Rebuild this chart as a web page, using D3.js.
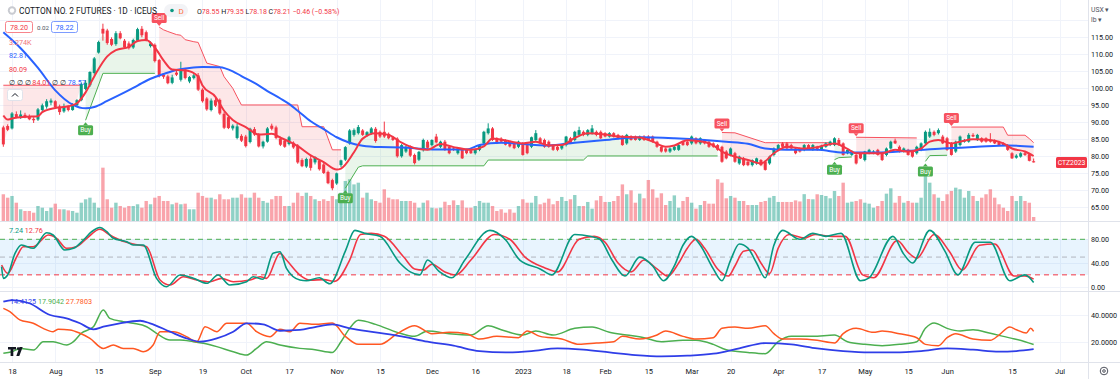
<!DOCTYPE html>
<html><head><meta charset="utf-8">
<script src="https://cdn.jsdelivr.net/npm/d3@7"></script>
<style>
html,body{margin:0;padding:0;background:#fff;}
svg{display:block;font-family:Roboto,"Noto Sans",sans-serif;}
</style></head><body>
<svg id="c" width="1120" height="379"></svg>
<script>
// ---------- DATA ----------
const firstBar = -2;
const ohlc = [
[88.5,89,82.8,83.5],[88.9,89.4,87.4,87.8],[88.2,93,87.9,92.6],[92.4,93.2,91.2,91.5],[91.5,93.5,91,92.3],
[92.2,92.8,91.2,91.4],[91.6,92.3,90.6,90.9],[91,91.5,89.8,90.6],[90.8,94.2,90.4,93.8],[93.6,95.5,93,95],
[94.6,96.8,94,96.2],[95.8,97,95,96.4],[96.2,96.5,94,94.5],[94.6,95.2,92.2,93],[93.2,95.5,92.8,94.6],
[94.5,95,93.2,93.6],[93.6,95.6,93.4,95.3],[95,96.8,94.6,96.5],[96.5,101.6,96.2,101.3],[99.8,102.4,99.4,101.6],
[100.9,105,100.4,104.8],[104.5,109.2,104,108.8],[110.5,114,110.2,113.6],[117.5,119,114,116.1],[117,117.5,112.8,113.3],
[114.5,115,112.4,112.8],[113,116.8,112.5,116.2],[116.2,116.8,114.4,114.7],[114,114.5,111.6,112],[113.2,113.8,111.4,111.8],
[112,114.6,111.6,114.2],[114,117.8,113.6,117.4],[117.5,118.3,115,115.6],[116.5,117,113.8,114.2],[112.4,113.8,112,113.2],
[112.8,113.2,107.6,108],[108.3,108.6,103.2,103.6],[104,104.4,102.8,103.4],[103.5,104,101.2,101.5],[101.6,104,101.2,103.2],
[104.6,105.2,103.6,104],[102.5,107.8,102,105.5],[105.5,106,102.6,103],[102,103.6,101.5,103.3],[103,104.2,102.6,103.8],
[103.8,104.5,99.2,99.6],[99.6,100,95.8,96.2],[97,97.4,93.4,93.8],[93.6,97,93.2,96.4],[96.5,97.2,94.5,94.9],
[96.6,97,92.2,92.6],[92.5,93,88,88.4],[91.5,92,88,88.3],[88.2,89.4,87.6,89],[85.4,89.5,85,88.8],
[86,86.5,84.2,84.6],[85.8,86.3,82.6,83],[84.2,88.4,83.8,88.1],[88,88.6,86,86.4],[86.3,86.8,82.6,82.9],
[82.9,84.6,82.3,84.3],[84.3,88.6,84,88.2],[89,89.6,87.6,88.1],[88.5,89,85,85.4],[85.2,85.8,83,83.4],
[84.6,85,82.5,82.8],[83.6,86,83.2,85.6],[84,84.4,82.2,82.6],[83.2,83.6,77.8,78.2],[78.9,79.4,76.8,77.1],
[77,79.6,76.6,79.2],[79.3,80.4,75.8,76.6],[78.2,80,77.6,79.8],[78.8,79.2,75.8,76.2],[77.6,78,74.8,75.1],
[75.4,75.8,71.8,72.1],[73,73.4,70,70.6],[72,75.2,71.6,75],[77.4,79,76.8,78.8],[79,83,78.6,82.7],
[83.8,88,83.4,87.6],[86.3,88.2,85.8,87.7],[86.8,89.2,86.4,88.6],[87.6,88,86,86.3],[86.2,87.4,85.8,87.1],
[86.8,88.6,86.4,88.2],[88.1,88.6,84,84.5],[87.2,87.6,85.4,85.8],[87.2,90.2,85.4,85.8],[86.6,87,85,85.3],
[85.6,86,84.5,84.8],[85.2,85.6,79.6,80],[80,83.6,79.6,83.3],[81.4,83.2,81,82.8],[82.8,83.2,79.8,80.2],
[80.4,80.8,77.6,78],[79,81.6,78.6,81.3],[81.8,85.2,81.4,84.8],[84.3,84.8,82.2,82.5],[83.3,85,82.9,84.8],
[85.8,86.6,83.8,84.1],[82.8,84.6,82.4,84.3],[84.3,84.8,81.6,81.9],[82.8,83.2,80.6,80.9],[82.3,82.8,81.6,81.9],
[80.9,82.6,80.5,82.3],[81.9,82.3,79.2,79.4],[81.9,82.2,80.6,80.9],[81.8,82.1,80.7,80.9],[80.9,82.2,80.5,81.9],
[81.9,83.6,81.5,83.3],[83.8,87.5,83.4,87.2],[86.8,89.7,86.4,88.2],[88.2,88.6,84.5,84.8],[85.3,85.6,83.6,83.8],
[85.2,85.6,84.1,84.3],[84.7,85,83.2,83.4],[84.3,84.6,82.6,82.9],[83.8,84.2,82.1,82.4],[82.8,84.6,82.4,84.3],
[83.8,84.2,80.2,80.4],[83.3,83.6,80.6,80.9],[82.8,85.8,82.4,85.6],[84.8,87.7,84.4,86.8],[85.3,85.7,83.6,83.8],
[84.8,85.2,82.5,82.8],[84.3,84.7,82.5,82.8],[83.3,83.6,81.6,81.9],[82.8,83.1,81.5,81.9],[82.3,83.5,81.9,83.3],
[83.3,86,82.9,85.8],[85.3,85.7,83.6,83.8],[84.8,87.5,84.4,87.2],[86.3,88.7,85.9,87.7],[87.2,87.6,85.9,86.3],
[86.3,88,85.9,87.7],[86.8,89.2,86.4,88.2],[87.2,87.6,85.9,86.3],[87.2,87.6,85.1,85.3],[86.8,87.1,85.6,85.8],
[85.8,87.1,85.5,86.8],[86.8,87.1,85.5,85.8],[86.3,86.6,85,85.3],[85.8,86.2,83.1,83.3],[83.8,86.6,83.4,86.3],
[85.8,86.2,84.6,84.8],[85.8,86.1,84.6,84.8],[84.8,86.1,84.5,85.8],[85.8,86.2,84.5,84.8],[85.8,86.2,84.5,84.8],
[85.8,86.1,84,84.3],[84.3,84.6,82.5,82.8],[82.8,83.2,81.1,81.4],[82.3,82.6,81.1,81.4],[81.4,82.6,81,82.3],
[81.9,83.1,81.6,82.8],[81.9,83.6,81.6,83.3],[84.3,84.6,83.1,83.3],[84.3,84.6,83,83.3],[83.8,86.1,83.4,85.8],
[85.3,85.6,83.5,83.8],[83.8,85.6,83.4,85.3],[84.8,85.1,83.5,83.8],[84.3,84.6,82.5,82.8],[83.8,84.1,82.5,82.8],
[83.3,83.6,81.6,81.9],[82.8,83.1,78.1,78.4],[81.4,81.8,79.1,79.4],[80.4,82.6,80,82.3],[80.9,81.3,78.1,78.4],
[77.9,80.2,77.5,79.9],[79.4,79.8,77.1,77.4],[78.4,78.8,77.1,77.4],[77.4,79.1,77,78.9],[77.9,79.6,77.5,79.4],
[78.9,79.2,77.1,77.4],[78.4,78.8,75.8,76],[77.9,80.2,77.5,79.9],[80.4,82.6,80,82.3],[81.9,83.6,81.5,83.3],
[83.8,84.2,82.6,82.8],[83.8,84.2,82.1,82.3],[83.3,83.7,82.1,82.3],[82.3,82.7,80.6,80.9],[82.3,82.6,81.1,81.4],
[81.9,83.6,81.5,83.3],[83.3,83.6,82.1,82.3],[81.9,83.6,81.6,83.3],[82.8,83.1,81.6,81.9],[81.9,83.4,81.6,83.1],
[82.8,84.1,82.5,83.8],[83.3,84.6,83,84.3],[83.3,85.6,83,85.3],[84.8,85.4,83.1,83.3],[83.8,84.1,80.2,80.4],
[80.9,82.2,80.6,81.9],[80.4,81.8,80.1,81.4],[80.4,80.8,77.6,77.9],[80.9,81.2,79.2,79.4],[78.9,81.6,78.5,81.4],
[80.9,82.2,80.6,81.9],[80.9,81.8,80.6,81.4],[81.9,82.2,80.2,80.4],[80.9,81.2,78.6,78.9],[80.4,82.6,80,82.3],
[82.3,84.6,82,84.3],[84.6,85.2,83.6,83.8],[82.8,83.2,81.1,81.4],[81.4,82.6,81.1,82.3],[81.9,82.2,80.2,80.4],
[81.4,81.7,79.6,79.9],[80.9,83.1,80.5,82.8],[81.9,84.1,81.5,83.8],[83.8,87.6,83.4,87.2],[85.8,88.2,85.4,87.2],
[87.2,87.6,85.9,86.3],[86.8,88.2,86.4,87.7],[85.8,86.3,83.6,83.8],[85.3,85.7,81.6,81.9],[83.8,84.2,80.2,80.4],
[81.4,84.6,81,84.3],[83.3,86.1,82.9,85.8],[84.3,85.1,84,84.8],[84.3,86.8,84,86.3],[86.3,86.8,85.6,85.8],
[84.8,86.6,84.5,86.3],[85.3,85.6,84,84.3],[85.3,85.6,84,84.3],[84.8,86.8,84,84.3],[84.6,85,83.6,83.8],
[84.3,84.6,83.1,83.3],[83.8,84.1,83,83.3],[83.3,83.6,81.6,81.9],[80.9,81.2,79.2,79.4],[79.6,80.6,79.3,80.2],
[79.9,81.2,79.6,80.9],[80.9,81.4,80.1,80.4],[80.6,81,78.5,78.67],[78.55,79.35,78.18,78.21]
];
const volumeK = [
21.9,19.1,20.5,15,9.6,8.2,8.2,6.8,12.3,10.9,8.2,10.9,14.2,9.6,9.6,8.7,8.2,6.8,15,17.8,19.1,15,10.9,43.7,17.8,10.9,15,12.3,10.9,12.3,12.3,13.7,10.9,16.4,13.7,19.1,20.5,16.4,16.4,13.7,15,13.7,14.2,9.6,9.6,23.2,20.5,19.1,19.1,17.8,21.9,17.8,17.8,19.1,19.1,21.9,19.1,19.1,23.2,19.1,16.4,15,17.8,20.5,
20.5,12.3,12.3,15,23.2,20.5,23.2,20.5,17.8,16.4,17.8,16.4,20.5,17.8,23.2,32.8,34.2,30,31.4,19.1,23.2,17.8,16.4,15,26,19.1,17.8,17.8,16.4,16.4,16.4,
15,10.9,15,16.9,10.9,10.4,10.9,15.8,13.1,16.9,13.1,16.9,10.9,10.9,12.3,16.4,15,15,12.3,8.2,9.6,6.8,9.6,6.8,12.3,17.8,15,15,20.5,13.7,15,18.3,13.7,16.4,19.7,16.4,17.8,21.3,12.3,12.3,15.6,10.1,16.9,20.5,15.6,15.6,16.4,20.5,30,21.9,25.1,15,22.4,18.6,33.6,26,19.1,22.7,13.1,16.4,21,10.9,16.4,19.7,15,10.1,13.1,16.4,14.2,14.2,34.2,31.4,18.6,20.5,19.1,16.4,16.4,13.1,13.1,13.1,15.6,16.4,19.1,20.5,15.6,15.6,15.6,15.6,16.9,
16,22,18,
17.8,21.9,21.3,20.5,18.6,24.6,20.5,31.4,15,15.8,16.4,17.8,15,14.2,10.9,12.3,16.4,22.4,26.8,15,20.5,15,16.4,15,15,19.1,36.9,31.4,21.9,19.1,16.4,21.9,24.6,27.3,26,19.1,24.6,20.5,16.4,19.1,21.9,26,19.1,13.7,10.9,8.2,20.5,16.4,20.5,16.4,15,3.274
];
const fastMA = [[-2,92.0],[-1,90.8],[0,91.1],[3,91.6],[6,91.8],[7,93.0],[10,94.2],[13,94.7],[15,95.6],[17,98.8],[19,103.5],[22,109.4],[24,111.2],[27,112.2],[29,113.9],[31,114.2],[33,112.0],[35,108.2],[37,105.5],[40,105.3],[43,103.5],[44,100.8],[47,97.5],[49,93.4],[51,90.7],[54,88.6],[57,86.4],[60,86.6],[62,85.5],[66,83.0],[69,80.3],[72,78.3],[75,76.1],[76,76.4],[79,81.2],[81,85.2],[84,86.8],[87,86.3],[90,84.0],[93,82.4],[96,81.9],[99,83.6],[102,82.7],[106,81.9],[109,82.9],[111,85.2],[113,84.9],[118,83.8],[121,84.3],[124,83.2],[127,83.3],[130,85.4],[133,86.8],[137,86.4],[140,85.8],[145,85.5],[148,84.3],[151,82.8],[153,83.2],[156,84.7],[160,84.2],[162,83.2],[164,81.4],[167,79.9],[170,78.9],[173,77.9],[176,80.9],[179,82.8],[183,82.3],[186,82.7],[188,83.3],[190,83.8],[193,82.2],[195,80.9],[198,80.9],[201,80.9],[204,81.9],[207,81.4],[210,82.3],[212,84.3],[214,84.8],[217,83.8],[219,84.3],[222,85.0],[226,84.8],[229,83.8],[231,82.3],[234,81.4],[236,80.09]];
const slowMA = [[-2,116.5],[2,111.8],[6,106],[10,99.4],[14,95.2],[17,94.1],[19,94.5],[22,96.3],[26,98.8],[29,100.8],[32,102.8],[35,104.2],[38,105.4],[41,106],[44,106.3],[48,106.2],[51,105],[53,103.6],[56,101.6],[59,99.2],[62,97],[64,95.4],[66,93.4],[69,90.3],[72,88],[75,85.6],[78,84],[81,83.1],[85,82.7],[90,82.6],[98,82],[105,82],[108,83.3],[113,84],[120,83.4],[124,83.2],[130,84],[137,84.8],[145,85.6],[153,85.3],[160,84.8],[165,84.3],[170,83.7],[174,82.3],[179,81.9],[186,81.9],[192,81.1],[200,81.1],[207,81.6],[215,82.3],[223,82.8],[230,83.2],[236,82.81]];
// trailing stop segments [bar, level]
const upperBand = [
 [[-2,100.9],[16,100.9]],
 [[34,118],[35,117.2],[36,116.7],[38,115.8],[39,115.6],[40,114.3],[42,113.7],[43,113.5],[45,107.4],[48,106.4],[49,103.4],[51,100],[52,97.5],[53,95.1],[66,95.1],[67,88.7],[72,88.7],[74,81.9],[76,81.9]],
 [[164,87],[167,86.9],[173,84.4],[174,84],[189,84]],
 [[195,85.6],[209,85.4]],
 [[217,88.6],[229,88.6],[230,86.2],[234,86.2],[235,85.2],[236,84.01]]
];
const lowerBand = [
 [[17,90.6],[21,104.4],[33,104.4]],
 [[77,70.6],[80,76.8],[81,77.2],[109,77.2],[110,78.9],[132,78.9],[133,80.1],[163,80.1]],
 [[190,79.0],[191,79.6],[194,79.8]],
 [[211,78.5],[212,80.2],[216,80.3]]
];
const stochK = [[-2.4,33.8],[-2,14.1],[-1,19.7],[0.7,56.3],[2.2,70.4],[4.9,64.8],[8,91.1],[9.5,87.3],[12.2,61.9],[14.2,64.8],[16.5,78.8],[18.4,92.8],[20.3,100],[21.9,92.8],[23.4,81.7],[26.5,75.9],[28,70.4],[30.3,70.4],[33.4,14.1],[35.7,0],[38.8,19.7],[41.9,14.1],[45,5.7],[47.6,19.7],[50.3,2.8],[54.2,8.4],[55.7,16.9],[58,12.5],[60.3,56.3],[61.9,59.1],[63.4,31],[66.5,11.3],[68,10],[71,15],[73.4,5],[77,60],[79.2,95],[81.5,90],[85,85],[89.6,40],[92,25],[94.2,20],[96,45],[98.8,25],[101.6,15],[104.6,45],[110.4,95],[113.9,80],[117.3,45],[122,30],[124.7,20],[130,88],[133.5,85],[135.8,80],[138.6,45],[141.6,18],[145,50],[148,35],[150.5,10],[153,35],[155,70],[157,85],[159,70],[162,30],[164,10],[166,45],[168,72],[170,65],[172,40],[174,15],[176,70],[178,95],[182,80],[185,90],[188,85],[191.5,90],[196,10],[198,15],[203.5,85],[206,55],[208,40],[212,95],[215.5,60],[218.5,20],[222.5,75],[226,75],[230.5,10],[234,20],[236,7.24]];
const stochD = [[-2.4,36.6],[-1,22.6],[1.1,50.6],[2.6,67.5],[4.9,67.5],[8.4,87.3],[10.3,81.7],[12.6,64.8],[14.9,67.5],[17.3,81.7],[20.3,96.9],[22.6,87.3],[24.9,78.8],[28,72],[31.1,67.5],[34.2,11.3],[36.5,2.8],[39.6,16.9],[42.7,11.3],[45.7,8.4],[48.4,14.1],[51.1,8.4],[55,11.3],[57.3,16.9],[58.8,14.1],[61.9,56.3],[63.4,45],[66.5,19.7],[69,11],[72,12],[74.5,9],[78,45],[80.5,88],[83,90],[86,85],[90.5,50],[93,30],[95,28],[97,38],[100,25],[102.5,20],[106,45],[111.5,88],[115,80],[118.5,50],[123,32],[126,25],[131,80],[134.5,85],[137,75],[140,40],[143,25],[146,45],[149,30],[151.5,18],[154,40],[156,65],[158,80],[160,65],[163,30],[165.5,18],[167,35],[169,60],[171,62],[173,40],[175,22],[177,65],[179.5,88],[183,82],[185.5,88],[189.5,85],[192.5,85],[196.5,20],[199,15],[204.5,78],[207,58],[209,48],[213,88],[216.5,60],[219.5,28],[223.5,70],[227,72],[231.5,18],[234,18],[236,12.76]];
const dmiBlue = [[-2,50],[0,51.2],[4,48.8],[8.8,40],[12.6,37.5],[15.7,33.8],[18.8,29.3],[21.1,31.2],[24.9,33.8],[29.6,35.7],[31.9,33.8],[36.5,27.5],[40.3,22.5],[43.4,20],[47.3,22.5],[51.1,27.5],[54.2,33.8],[58,33],[61.9,28.2],[66.5,28.8],[70,31],[74,33],[78,30],[84,27],[90,24],[96,20],[102,17],[108,13],[114,12],[120,13],[126,15],[132,14],[138,12],[144,10],[150,9],[156,9.5],[162,11],[168,15],[174,19],[180,18],[186,15],[192,13],[198,12],[204,12],[210,13],[216,15],[222,14],[228,12.5],[232,13],[236,14.41]];
const dmiGreen = [[-2,11.3],[0,12.5],[2,15],[5,13.8],[7.2,20],[9.5,20],[12.6,17.5],[14.2,20],[16,26.3],[18.8,31.2],[21.1,43.7],[22.6,37.5],[25.7,35],[28,33.8],[31.1,31.2],[33.4,26.3],[36.5,21.3],[38.8,21.3],[41.9,20],[44.2,18.8],[47.3,16.3],[51.1,12.5],[54.2,10],[56.5,15],[58.8,20],[61.9,17.5],[66.5,15],[70,14],[74,12],[76,20],[78,30],[80,36],[84,33],[89,27],[93,24],[96,28],[101,26],[106,25],[110,32],[113,29],[118,25],[121,28],[125,25],[130,30],[134,31],[138,27],[142,25],[146,23],[150,20],[155,21],[158,21],[162,18],[165,14],[170,12],[174,11],[177,20],[180,24],[185,24],[190,25],[193,20],[197,18],[201,17],[205,18],[209,20],[211,30],[213,34],[216,30],[219,28],[222,29],[226,26.3],[229,24],[231,22.5],[234,20],[236,17.9]];
const dmiOrange = [[-2,45],[-0.5,42.5],[1.8,36.3],[4.9,33.8],[7.2,30],[9.5,27.5],[10.7,29.3],[13.4,28.8],[15.7,26.3],[18,22.5],[21.1,15],[23.4,17.5],[25.7,15],[28,15],[30.3,12.5],[32.6,17.5],[34.2,27.5],[37.3,27.5],[40.3,23.8],[42.7,20],[44.6,31.2],[47.3,27.5],[49.6,33.8],[54.2,33.8],[56.5,27.5],[59.6,23.8],[61.9,29.3],[64.2,27.5],[66.5,33.8],[70,33],[74,34],[77,24],[80,18],[85,18],[89,26],[93,32],[97,26],[101,27],[105,26],[108,22],[112,24],[117,23],[119,28],[122,24],[127,22],[131,18],[135,19],[139,20],[141,24],[145,22],[149,25],[151,28],[155,24],[158,22],[162,23],[164,30],[167,31],[170,30],[174,32],[176,26],[178,22],[182,22],[186,21],[190,19],[192,26],[195,30],[199,27],[201,28],[205,26],[209,23],[211,18],[214,17],[216,23],[218,26],[222,22],[226,21],[228,25],[230.5,31],[232,29],[234.3,26.5],[235.3,30],[236,27.78]];
const xTickBars = [0,10,20,33,44,54,64,75,85,97,107,118,128,137,147,157,166,177,187,197,207,216,231,242];
const xTickLabels = ['18','Aug','15','Sep','19','Oct','17','Nov','15','Dec','16','2023','18','Feb','15','Mar','20','Apr','17','May','15','Jun','15','Jul'];
const priceTicks = [65,70,75,80,85,90,95,100,105,110,115];
const stochTicks = [0,40,80];
const dmiTicks = [20,40];

// ---------- LAYOUT ----------
const RED='#f23645', TEAL='#089981', BLUE='#2962ff', GREEN='#4caf50', ORANGE='#ff5722', TXT='#131722', GRID='#f0f3fa', SEP='#e0e3eb';
const plotR = 1088;
const svg = d3.select('#c');
const x = d3.scaleLinear().domain([0,231]).range([12,1012]);
const yP = d3.scaleLinear().domain([65,115]).range([207.3,37.3]);
const yV = d3.scaleLinear().domain([0,44]).range([221,167.3]);
const yS = d3.scaleLinear().domain([0,80]).range([286.7,239.3]);
const yD = d3.scaleLinear().domain([20,40]).range([341.7,315]);

const bars = ohlc.map((d,k)=>({i:k+firstBar,o:d[0],h:d[1],l:d[2],c:d[3],v:volumeK[k]}));
const closeAt = i => bars[i-firstBar].c;

const defs = svg.append('defs');
[['clipMain',0,221],['clipStoch',222,291],['clipDmi',292,362]].forEach(([id,y0,y1])=>{
  defs.append('clipPath').attr('id',id).append('rect').attr('x',0).attr('y',y0).attr('width',plotR).attr('height',y1-y0);
});

svg.append('rect').attr('width',1120).attr('height',379).attr('fill','#fff');

// grid
const grid = svg.append('g');
xTickBars.forEach(b=>{ const xx=Math.round(x(b))+0.5; if(xx<plotR) grid.append('line').attr('x1',xx).attr('x2',xx).attr('y1',0).attr('y2',362).attr('stroke',GRID); });
priceTicks.concat([120]).forEach(p=>grid.append('line').attr('x1',0).attr('x2',plotR).attr('y1',Math.round(yP(p))+0.5).attr('y2',Math.round(yP(p))+0.5).attr('stroke',GRID));
stochTicks.forEach(p=>grid.append('line').attr('x1',0).attr('x2',plotR).attr('y1',Math.round(yS(p))+0.5).attr('y2',Math.round(yS(p))+0.5).attr('stroke',GRID));
dmiTicks.forEach(p=>grid.append('line').attr('x1',0).attr('x2',plotR).attr('y1',Math.round(yD(p))+0.5).attr('y2',Math.round(yD(p))+0.5).attr('stroke',GRID));

// ---------- MAIN PANE ----------
const gM = svg.append('g').attr('clip-path','url(#clipMain)');
gM.selectAll('rect.vol').data(bars).join('rect').attr('class','vol')
  .attr('x',d=>x(d.i)-1.7).attr('width',3.4)
  .attr('y',d=>yV(d.v)).attr('height',d=>yV(0)-yV(d.v))
  .attr('fill',d=>d.c>=d.o?'rgba(8,153,129,0.45)':'rgba(242,54,69,0.45)');

function fillPath(seg){
  const top = seg.map(p=>[x(p[0]),yP(p[1])]);
  const a=seg[0][0], b=seg[seg.length-1][0];
  const bot=[]; for(let i=b;i>=a;i--) bot.push([x(i),yP(closeAt(i))]);
  return 'M'+top.concat(bot).map(p=>p[0].toFixed(1)+','+p[1].toFixed(1)).join('L')+'Z';
}
upperBand.forEach(s=>gM.append('path').attr('d',fillPath(s)).attr('fill','rgba(242,54,69,0.12)'));
lowerBand.forEach(s=>gM.append('path').attr('d',fillPath(s)).attr('fill','rgba(76,175,80,0.12)'));
const lineP = d3.line().x(d=>x(d[0])).y(d=>yP(d[1]));
upperBand.forEach(s=>gM.append('path').attr('d',lineP(s)).attr('fill','none').attr('stroke','#f7525f').attr('stroke-width',1));
lowerBand.forEach(s=>gM.append('path').attr('d',lineP(s)).attr('fill','none').attr('stroke',GREEN).attr('stroke-width',1));

const gC = gM.append('g');
gC.selectAll('line').data(bars).join('line')
  .attr('x1',d=>x(d.i)).attr('x2',d=>x(d.i)).attr('y1',d=>yP(d.h)).attr('y2',d=>yP(d.l))
  .attr('stroke',d=>d.c>=d.o?TEAL:RED).attr('stroke-width',1);
gC.selectAll('rect').data(bars).join('rect')
  .attr('x',d=>x(d.i)-1.5).attr('width',3)
  .attr('y',d=>yP(Math.max(d.o,d.c))).attr('height',d=>Math.max(1,Math.abs(yP(d.o)-yP(d.c))))
  .attr('fill',d=>d.c>=d.o?TEAL:RED);

const smooth = d3.line().x(d=>x(d[0])).y(d=>yP(d[1])).curve(d3.curveMonotoneX);
gM.append('path').attr('d',smooth(slowMA)).attr('fill','none').attr('stroke',BLUE).attr('stroke-width',2);
gM.append('path').attr('d',smooth(fastMA)).attr('fill','none').attr('stroke',RED).attr('stroke-width',2);

function sig(seg,type){
  const i=seg[0][0], v=seg[0][1], cx=x(i), ly=yP(v), w=15, h=10;
  const col = type==='Sell'?'#f7525f':GREEN;
  const g=svg.append('g');
  let by;
  if(type==='Sell'){ by=ly-4-h; g.append('path').attr('d',`M${cx-2.5},${by+h}L${cx+2.5},${by+h}L${cx},${by+h+3}Z`).attr('fill',col); }
  else { by=ly+5; g.append('path').attr('d',`M${cx-2.5},${by}L${cx+2.5},${by}L${cx},${by-3}Z`).attr('fill',col); }
  g.append('rect').attr('x',cx-w/2).attr('y',by).attr('width',w).attr('height',h).attr('rx',1.5).attr('fill',col);
  g.append('text').attr('x',cx).attr('y',by+h/2+0.5).attr('text-anchor','middle').attr('dominant-baseline','middle')
   .attr('font-size',6.5).attr('fill','#fff').text(type);
}
upperBand.slice(1).forEach(s=>sig(s,'Sell'));
lowerBand.forEach(s=>sig(s,'Buy'));

// ---------- STOCH PANE ----------
const gS = svg.append('g').attr('clip-path','url(#clipStoch)');
gS.append('rect').attr('x',0).attr('width',plotR).attr('y',yS(80)).attr('height',yS(20)-yS(80)).attr('fill','rgba(33,150,243,0.1)');
[[80,GREEN],[50,'#b2b5be'],[20,RED]].forEach(([v,c])=>gS.append('line').attr('x1',0).attr('x2',plotR).attr('y1',yS(v)).attr('y2',yS(v)).attr('stroke',c).attr('stroke-dasharray','5,4'));
const lineS = d3.line().x(d=>x(d[0])).y(d=>yS(d[1])).curve(d3.curveMonotoneX);
gS.append('path').attr('d',lineS(stochD)).attr('fill','none').attr('stroke',RED).attr('stroke-width',1.6);
gS.append('path').attr('d',lineS(stochK)).attr('fill','none').attr('stroke',TEAL).attr('stroke-width',1.6);

// ---------- DMI PANE ----------
const gD = svg.append('g').attr('clip-path','url(#clipDmi)');
const lineD = d3.line().x(d=>x(d[0])).y(d=>yD(d[1])).curve(d3.curveMonotoneX);
gD.append('path').attr('d',lineD(dmiGreen)).attr('fill','none').attr('stroke',GREEN).attr('stroke-width',1.5);
gD.append('path').attr('d',lineD(dmiOrange)).attr('fill','none').attr('stroke',ORANGE).attr('stroke-width',1.5);
gD.append('path').attr('d',lineD(dmiBlue)).attr('fill','none').attr('stroke','#2f3ee8').attr('stroke-width',1.8);

[221.5,291.5,362.5].forEach(yy=>svg.append('line').attr('x1',0).attr('x2',1120).attr('y1',yy).attr('y2',yy).attr('stroke',SEP));
svg.append('line').attr('x1',plotR+0.5).attr('x2',plotR+0.5).attr('y1',0).attr('y2',379).attr('stroke',SEP);

// ---------- AXES ----------
function styleAxis(g){ g.select('.domain').remove(); g.selectAll('text').attr('font-size',7.2).attr('fill',TXT).attr('font-family','Roboto'); }
svg.append('g').attr('transform',`translate(${plotR},0)`).call(d3.axisRight(yP).tickValues(priceTicks).tickFormat(d3.format('.2f')).tickSize(0).tickPadding(3)).call(styleAxis);
svg.append('g').attr('transform',`translate(${plotR},0)`).call(d3.axisRight(yS).tickValues(stochTicks).tickFormat(d3.format('.2f')).tickSize(0).tickPadding(3)).call(styleAxis);
svg.append('g').attr('transform',`translate(${plotR},0)`).call(d3.axisRight(yD).tickValues(dmiTicks).tickFormat(d3.format('.4f')).tickSize(0).tickPadding(3)).call(styleAxis);
svg.append('g').attr('transform','translate(0,364)').call(d3.axisBottom(x).tickValues(xTickBars).tickFormat((d,k)=>xTickLabels[k]).tickSize(0).tickPadding(5)).call(styleAxis)
  .selectAll('text').attr('font-size',7.5);

svg.append('text').attr('x',1091).attr('y',12).attr('font-size',6.8).attr('fill','#50535e').text('USX ▾');
svg.append('text').attr('x',1091).attr('y',22).attr('font-size',6.8).attr('fill','#50535e').text('lb ▾');
svg.append('rect').attr('x',1056).attr('y',157).attr('width',31).attr('height',11).attr('rx',1.5).attr('fill',RED);
svg.append('text').attr('x',1071.5).attr('y',163).attr('text-anchor','middle').attr('dominant-baseline','middle').attr('font-size',6.8).attr('fill','#fff').text('CTZ2023');

// ---------- LEGENDS ----------
svg.append('circle').attr('cx',12).attr('cy',10.5).attr('r',4.2).attr('fill','#c9cbd1');
svg.append('circle').attr('cx',12).attr('cy',10.5).attr('r',2.2).attr('fill','#fff');
svg.append('text').attr('x',19).attr('y',14).attr('font-size',8.6).attr('fill',TXT)
  .attr('textLength',138).attr('lengthAdjust','spacingAndGlyphs').text('COTTON NO. 2 FUTURES · 1D · ICEUS');
svg.append('rect').attr('x',164).attr('y',4).attr('width',24).attr('height',13).attr('rx',6.5).attr('fill','#f2f3f6');
svg.append('circle').attr('cx',172).attr('cy',10.5).attr('r',1.8).attr('fill',TEAL);
svg.append('text').attr('x',178.5).attr('y',13.6).attr('font-size',8).attr('fill','#ff7043').text('D');
const ohlcT = svg.append('text').attr('x',197).attr('y',14).attr('font-size',7);
[['O',TXT],['78.55',RED],[' H',TXT],['79.35',RED],[' L',TXT],['78.18',RED],[' C',TXT],['78.21',RED],[' −0.46 (−0.58%)',RED]]
  .forEach(([t,c])=>ohlcT.append('tspan').attr('fill',c).text(t));

svg.append('rect').attr('x',5.5).attr('y',21.5).attr('width',27).attr('height',11).attr('rx',2).attr('fill','#fff').attr('stroke','#f7848c');
svg.append('text').attr('x',19).attr('y',30).attr('text-anchor','middle').attr('font-size',7.2).attr('fill',RED).text('78.20');
svg.append('text').attr('x',37).attr('y',30).attr('font-size',6.2).attr('fill','#50535e').text('0.02');
svg.append('rect').attr('x',51.5).attr('y',21.5).attr('width',26).attr('height',11).attr('rx',2).attr('fill','#fff').attr('stroke','#7d9cff');
svg.append('text').attr('x',64.5).attr('y',30).attr('text-anchor','middle').attr('font-size',7.2).attr('fill',BLUE).text('78.22');
svg.append('text').attr('x',9).attr('y',45).attr('font-size',7.2).attr('fill','#f0737b').text('3.274K');
svg.append('text').attr('x',9).attr('y',58).attr('font-size',7.2).attr('fill',BLUE).text('82.81');
svg.append('text').attr('x',9).attr('y',71.5).attr('font-size',7.2).attr('fill',RED).text('80.09');
const st = svg.append('text').attr('x',9).attr('y',84.5).attr('font-size',7.2);
[['∅ ∅ ∅ ',TXT],['84.01',RED],[' ∅ ∅ ',TXT],['78.57',BLUE]].forEach(([t,c])=>st.append('tspan').attr('fill',c).text(t));
svg.append('rect').attr('x',7.5).attr('y',89.5).attr('width',15).attr('height',11).attr('rx',2).attr('fill','#fff').attr('stroke',SEP);
svg.append('path').attr('d','M12,96.5L15,93.5L18,96.5').attr('fill','none').attr('stroke',TXT).attr('stroke-width',1);

const sl = svg.append('text').attr('x',9).attr('y',233).attr('font-size',7.2);
sl.append('tspan').attr('fill',TEAL).text('7.24  ');
sl.append('tspan').attr('fill',RED).text('12.76');
const dl = svg.append('text').attr('x',10).attr('y',304).attr('font-size',7.2);
dl.append('tspan').attr('fill','#2f3ee8').text('14.4125  ');
dl.append('tspan').attr('fill',GREEN).text('17.9042  ');
dl.append('tspan').attr('fill',ORANGE).text('27.7803');

svg.append('path').attr('d','M8,347h8v2.6h-2.7v6.4h-2.7v-6.4H8Z M19.5,347h3.2l-3.4,9h-3.0Z').attr('fill','#131722');
svg.append('circle').attr('cx',18.2).attr('cy',348.6).attr('r',1.4).attr('fill','#131722');
svg.append('circle').attr('cx',1104).attr('cy',371).attr('r',3.8).attr('fill','none').attr('stroke','#50535e').attr('stroke-width',1);
svg.append('circle').attr('cx',1104).attr('cy',371).attr('r',1.3).attr('fill','none').attr('stroke','#50535e').attr('stroke-width',1);
</script>
</body></html>
